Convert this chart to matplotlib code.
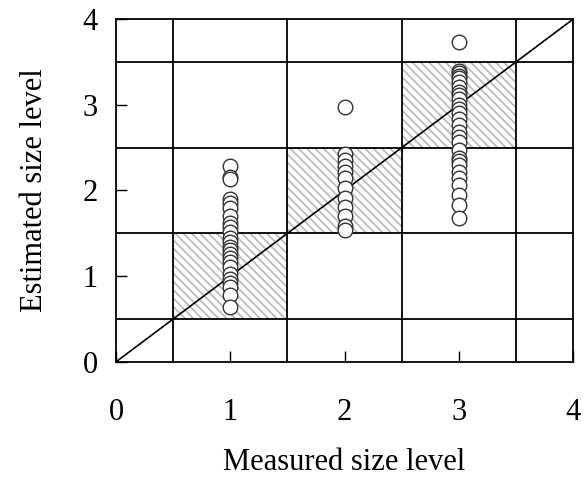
import numpy as np
import matplotlib
matplotlib.use("Agg")
import matplotlib.pyplot as plt
from matplotlib.patches import Rectangle

plt.rcParams['font.family'] = ['Liberation Serif', 'DejaVu Serif']
plt.rcParams['hatch.linewidth'] = 1.3

# estimated size levels, one list per measured level
measured_levels = [1, 2, 3]
est_level1 = [2.29, 2.16, 2.13, 1.90, 1.85, 1.80, 1.70, 1.62, 1.57, 1.52, 1.45,
              1.40, 1.34, 1.30, 1.26, 1.21, 1.16, 1.11, 1.02, 0.97, 0.92,
              0.87, 0.78, 0.64]
est_level2 = [2.97, 2.43, 2.36, 2.28, 2.21, 2.14, 2.03, 1.91, 1.81, 1.70,
              1.58, 1.54]
est_level3 = [3.73, 3.40, 3.37, 3.34, 3.31, 3.27, 3.21, 3.15, 3.11, 3.07, 3.00,
              2.95, 2.90, 2.83, 2.76, 2.68, 2.62, 2.57, 2.47, 2.38, 2.34, 2.30,
              2.22, 2.14, 2.06, 1.95, 1.83, 1.68]
all_est = [est_level1, est_level2, est_level3]

bounds = [0.5, 1.5, 2.5, 3.5]
ticklabels = ['0', '1', '2', '3', '4']

fig = plt.figure(figsize=(5.86, 4.78), dpi=100)
ax = fig.add_axes([0.198, 0.243, 0.780, 0.717])

# hatched "correct" squares
for lv in measured_levels:
    ax.add_patch(Rectangle((lv - 0.5, lv - 0.5), 1, 1, facecolor='white',
                           edgecolor='#bcbcbc', lw=0, hatch='\\\\\\\\',
                           zorder=1))

for b in bounds:
    ax.axvline(b, color='black', lw=1.3, zorder=2)
    ax.axhline(b, color='black', lw=1.3, zorder=2)

ax.plot([0, 4], [0, 4], color='black', lw=1.2, zorder=3)

for lv, vals in zip(measured_levels, all_est):
    ax.plot([lv] * len(vals), vals, 'o', ms=10.5, mfc='white', mec='#333333',
            mew=1.0, zorder=4)

ax.set_xlim(0, 4)
ax.set_ylim(0, 4)
ax.set_xticks([0, 1, 2, 3, 4])
ax.set_yticks([0, 1, 2, 3, 4])
ax.set_xticklabels(ticklabels)
ax.set_yticklabels(ticklabels)
ax.tick_params(direction='in', length=8, width=1, labelsize=22)
ax.tick_params(axis='x', pad=26)
ax.tick_params(axis='y', pad=13)
for s in ax.spines.values():
    s.set_linewidth(1.3)

ax.set_xlabel('Measured size level', fontsize=22, labelpad=15)
ax.set_ylabel('Estimated size level', fontsize=22, labelpad=24)

fig.savefig('out.png', dpi=100)
